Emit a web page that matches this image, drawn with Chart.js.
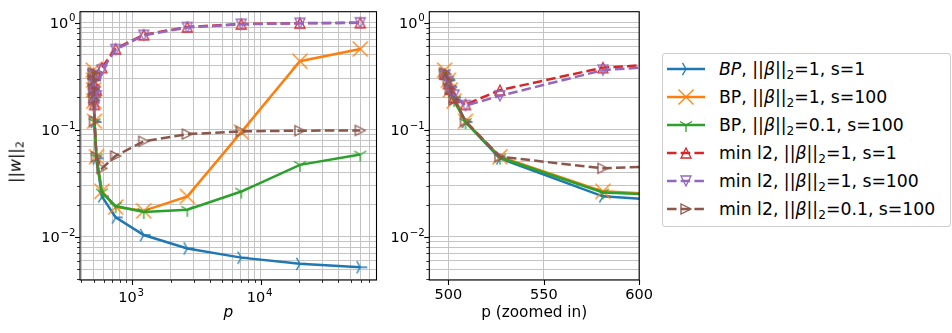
<!DOCTYPE html>
<html lang="en">
<head>
<meta charset="UTF-8">
<title>||w||2 against p</title>
<script src="https://cdn.jsdelivr.net/npm/chart.js"></script>
<style>
  body {margin:0; width:952px; height:333px; background:#fff; position:relative; overflow:hidden; font-family:"DejaVu Sans", sans-serif; color:#000;}
  .box {position:absolute; top:0; height:333px;}
  #left {left:0; width:385px;}
  #right {left:385px; width:275px;}
  #ylabel {position:absolute; left:15px; top:162px; transform:translate(-50%,-50%) rotate(-90deg); font-size:16px; white-space:nowrap;}
  #legend {position:absolute; left:662px; top:53px; width:289px; height:174px; box-sizing:border-box; border:1px solid #cccccc; border-radius:3px; background:#fff;}
  .row {position:absolute; left:0; height:20px; width:100%;}
  .row canvas {position:absolute; left:4px; top:0;}
  .row span {position:absolute; left:56px; top:0; line-height:20px; font-size:17.3px; white-space:nowrap;}
  sub {font-size:70%; vertical-align:-0.3em; line-height:0;}
</style>
</head>
<body>
<div id="left" class="box"><canvas id="cLeft"></canvas></div>
<div id="right" class="box"><canvas id="cRight"></canvas></div>
<div id="ylabel">||<i>w</i>||<sub>2</sub></div>
<div id="legend"></div>

<script>
// p values (n = 500)
const pValues = [498, 500, 501, 503, 509, 527, 581, 743, 1229, 2687, 7061, 20183, 59549];

// ||w||_2 for each run
const bpBeta1S1    = [0.33, 0.29, 0.25, 0.20, 0.118, 0.054, 0.0239, 0.0152, 0.0104, 0.0078, 0.0064, 0.0056, 0.0052];
const bpBeta1S100  = [0.36, 0.29, 0.235, 0.185, 0.12, 0.056, 0.0266, 0.0190, 0.0175, 0.0239, 0.095, 0.436, 0.567];
const bpBeta01S100 = [0.34, 0.28, 0.24, 0.19, 0.118, 0.055, 0.026, 0.0194, 0.0171, 0.0179, 0.0265, 0.047, 0.0587];
const l2Beta1S1    = [0.33, 0.27, 0.24, 0.20, 0.172, 0.234, 0.38, 0.57, 0.77, 0.91, 0.97, 0.99, 0.997];
const l2Beta1S100  = [0.32, 0.28, 0.23, 0.21, 0.168, 0.207, 0.36, 0.56, 0.76, 0.90, 0.965, 0.985, 0.995];
const l2Beta01S100 = [0.34, 0.29, 0.24, 0.19, 0.12, 0.056, 0.0436, 0.057, 0.078, 0.091, 0.0966, 0.098, 0.0985];

const legendLabels = [
  '<i>BP</i>, ||<i>β</i>||<sub>2</sub>=1, s=1',
  'BP, ||<i>β</i>||<sub>2</sub>=1, s=100',
  'BP, ||<i>β</i>||<sub>2</sub>=0.1, s=100',
  'min l2, ||<i>β</i>||<sub>2</sub>=1, s=1',
  'min l2, ||<i>β</i>||<sub>2</sub>=1, s=100',
  'min l2, ||<i>β</i>||<sub>2</sub>=0.1, s=100'
];

const leftXRange = [392.4, 79650];
const rightXRange = [490, 600];
const rightXTicks = [500, 550, 600];
const yRange = [0.003957, 1.264];

const series = [
  {data: bpBeta1S1,    color: '#1f77b4', dash: [],         marker: 'tri_right'},
  {data: bpBeta1S100,  color: '#ff7f0e', dash: [],         marker: 'x'},
  {data: bpBeta01S100, color: '#2ca02c', dash: [],         marker: 'tri_down'},
  {data: l2Beta1S1,    color: '#d62728', dash: [9.5, 4.2], marker: 'tri_up_open'},
  {data: l2Beta1S100,  color: '#9467bd', dash: [9.5, 4.2], marker: 'tri_dn_open'},
  {data: l2Beta01S100, color: '#8c564b', dash: [9.5, 4.2], marker: 'tri_rt_open'}
];

const FONT = '"DejaVu Sans", sans-serif';
Chart.defaults.font.family = FONT;
Chart.defaults.font.size = 14.5;
Chart.defaults.color = '#000';

function drawMarker(g, kind, color) {
  g.strokeStyle = color;
  g.lineWidth = 1.3;
  g.beginPath();
  if (kind === 'tri_right' || kind === 'tri_down') {
    const r = 7, a0 = kind === 'tri_right' ? 0 : Math.PI / 2;
    for (let k = 0; k < 3; k++) {
      const a = a0 + k * 2 * Math.PI / 3;
      g.moveTo(0, 0);
      g.lineTo(r * Math.cos(a), r * Math.sin(a));
    }
  } else if (kind === 'x') {
    const h = 7.5;
    g.moveTo(-h, -h); g.lineTo(h, h);
    g.moveTo(-h, h); g.lineTo(h, -h);
  } else {
    const h = 5;
    if (kind === 'tri_up_open') { g.moveTo(0, -h); g.lineTo(-h, h); g.lineTo(h, h); }
    if (kind === 'tri_dn_open') { g.moveTo(0, h); g.lineTo(-h, -h); g.lineTo(h, -h); }
    if (kind === 'tri_rt_open') { g.moveTo(h, 0); g.lineTo(-h, -h); g.lineTo(-h, h); }
    g.closePath();
  }
  g.stroke();
}

function makeMarker(kind, color) {
  const c = document.createElement('canvas');
  c.width = 20; c.height = 20;
  const g = c.getContext('2d');
  g.translate(10, 10);
  drawMarker(g, kind, color);
  return c;
}

function isPow10(v) {
  const e = Math.round(Math.log10(v));
  return Math.abs(v / Math.pow(10, e) - 1) < 1e-9;
}
function logTicks(min, max) {
  const out = [];
  for (let e = Math.floor(Math.log10(min)); e <= Math.ceil(Math.log10(max)); e++)
    for (let m = 1; m < 10; m++) {
      const v = m * Math.pow(10, e);
      if (v >= min && v <= max) out.push({value: v});
    }
  return out;
}

// "10" with a raised exponent, like matplotlib's mathtext labels
function drawPowLabel(ctx, v, x, baseline, align) {
  const base = '10';
  const exp = String(Math.round(Math.log10(v))).replace('-', '\u2212');
  ctx.font = '14.5px ' + FONT;
  const wb = ctx.measureText(base).width;
  ctx.font = '10.2px ' + FONT;
  const we = ctx.measureText(exp).width;
  const w = wb + 0.8 + we;
  const x0 = align === 'right' ? x - w : x - w / 2;
  ctx.fillStyle = '#000';
  ctx.textAlign = 'left';
  ctx.textBaseline = 'alphabetic';
  ctx.font = '14.5px ' + FONT;
  ctx.fillText(base, x0, baseline);
  ctx.font = '10.2px ' + FONT;
  ctx.fillText(exp, x0 + wb + 0.8, baseline - 6.5);
}

const gridColor = '#c4c4c4';

// axes box, ticks and power-of-ten labels, matplotlib style
const frame = {
  id: 'frame',
  afterDraw(chart) {
    const {ctx, chartArea: a, scales} = chart;
    ctx.save();
    ctx.strokeStyle = '#000';
    ['x', 'y'].forEach(id => {
      const sc = scales[id];
      const isLog = sc.type === 'logarithmic';
      sc.ticks.forEach(t => {
        const major = !isLog || isPow10(t.value);
        const len = major ? 5 : 3;
        ctx.lineWidth = major ? 1.1 : 0.8;
        const p = Math.round(sc.getPixelForValue(t.value)) + 0.5;
        ctx.beginPath();
        if (id === 'x') { ctx.moveTo(p, a.bottom); ctx.lineTo(p, a.bottom + len); }
        else { ctx.moveTo(a.left, p); ctx.lineTo(a.left - len, p); }
        ctx.stroke();
        if (isLog && major) {
          const q = sc.getPixelForValue(t.value);
          if (id === 'x') drawPowLabel(ctx, t.value, q - 1, a.bottom + 22, 'center');
          else drawPowLabel(ctx, t.value, a.left - 4.5, q + 5.3, 'right');
        }
      });
    });
    ctx.lineWidth = 1.1;
    ctx.strokeRect(a.left, a.top, a.right - a.left, a.bottom - a.top);
    ctx.restore();
  }
};

function datasets() {
  return series.map((s, i) => ({
    data: pValues.map((p, j) => ({x: p, y: s.data[j]})),
    borderColor: s.color,
    borderWidth: 2.5,
    borderDash: s.dash,
    tension: 0,
    fill: false,
    pointStyle: makeMarker(s.marker, s.color),
    pointRadius: 6,
    order: series.length - i,
    clip: 0
  }));
}

function yScale(width) {
  return {
    type: 'logarithmic',
    min: yRange[0], max: yRange[1],
    afterBuildTicks: sc => { sc.ticks = logTicks(sc.min, sc.max); },
    afterFit: sc => { sc.width = width; },
    ticks: {callback: () => '', autoSkip: false},
    grid: {color: gridColor, lineWidth: 1, drawTicks: false},
    border: {display: false}
  };
}

function makeChart(id, xScale, yWidth, padRight) {
  return new Chart(document.getElementById(id), {
    type: 'line',
    data: {datasets: datasets()},
    options: {
      responsive: true,
      maintainAspectRatio: false,
      animation: false,
      layout: {padding: {top: 2, right: padRight, left: 0, bottom: 0}},
      plugins: {legend: {display: false}, tooltip: {enabled: false}},
      scales: {x: xScale, y: yScale(yWidth)}
    },
    plugins: [frame]
  });
}

makeChart('cLeft', {
  type: 'logarithmic',
  min: leftXRange[0], max: leftXRange[1],
  afterBuildTicks: sc => { sc.ticks = logTicks(sc.min, sc.max); },
  afterFit: sc => { sc.height = 53; },
  ticks: {callback: () => '', autoSkip: false, maxRotation: 0},
  grid: {color: gridColor, lineWidth: 1, drawTicks: false},
  border: {display: false},
  title: {display: true, text: 'p', font: {style: 'italic', size: 15.3}, padding: {top: 0, bottom: 11}}
}, 80, 8);

makeChart('cRight', {
  type: 'linear',
  min: rightXRange[0], max: rightXRange[1],
  afterBuildTicks: sc => { sc.ticks = rightXTicks.map(v => ({value: v})); },
  afterFit: sc => { sc.height = 53; },
  ticks: {autoSkip: false, maxRotation: 0, padding: 7},
  grid: {color: gridColor, lineWidth: 1, drawTicks: false},
  border: {display: false},
  title: {display: true, text: 'p (zoomed in)', font: {size: 15.3}, padding: {top: 0, bottom: 11}}
}, 44.3, 7.3);

// legend
const legend = document.getElementById('legend');
series.forEach((s, i) => {
  const row = document.createElement('div');
  row.className = 'row';
  row.style.top = (5.3 + 28 * i) + 'px';
  const c = document.createElement('canvas');
  c.width = 40; c.height = 20;
  const g = c.getContext('2d');
  g.strokeStyle = s.color; g.lineWidth = 2.5; g.setLineDash(s.dash);
  g.beginPath(); g.moveTo(0, 10); g.lineTo(38, 10); g.stroke();
  g.setLineDash([]);
  g.translate(19, 10);
  drawMarker(g, s.marker, s.color);
  const t = document.createElement('span');
  t.innerHTML = legendLabels[i];
  row.appendChild(c); row.appendChild(t);
  legend.appendChild(row);
});
</script>
</body>
</html>
